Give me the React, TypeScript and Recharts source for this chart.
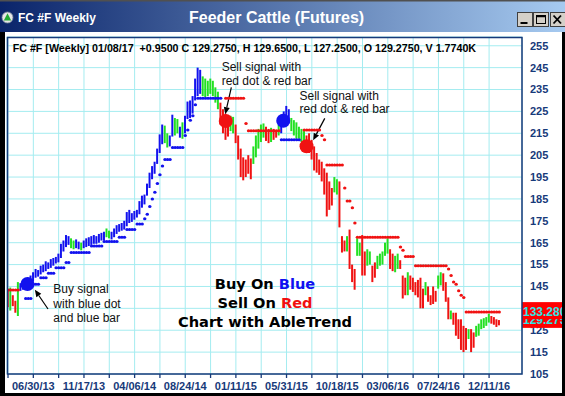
import React from 'react';
import {
  ComposedChart, Bar, Cell, Scatter, XAxis, YAxis, CartesianGrid,
  ReferenceDot, ReferenceLine,
} from 'recharts';

// ---------- data ----------
const FIRST_WEEK = -10; // week 0 = 06/30/13, weekly bars

const highs: number[] = [
  144, 144.5, 141, 138.5, 147, 146.5, 147, 148, 149, 150,
  151.5, 153, 152.5, 154.5, 155, 156.5, 156, 157.5, 158, 158.5,
  160, 164.5, 166, 168.5, 168, 167, 166, 166.5, 165.5, 165,
  166, 167, 167.5, 168, 168.5, 168, 169, 169.5, 170, 171.5,
  170.5, 170, 171.5, 173, 173.5, 174, 175, 179, 180, 178.5,
  179.5, 180, 184, 186.5, 187, 192, 197, 200, 202, 208,
  214.5, 219, 218.5, 215, 214, 223.5, 222, 221.5, 218, 220,
  223, 229.5, 230, 232, 240, 245, 244, 241, 240, 239,
  240, 239, 236, 234, 229, 226, 224, 222, 223, 222.5,
  219, 214, 208, 204, 203, 205, 203.5, 209, 214, 217,
  219, 219.5, 218, 217, 217.5, 217, 216.5, 219, 222, 225,
  227.5, 226, 222, 221, 220, 218, 217, 216, 214, 215,
  212, 209, 206, 203, 202, 199, 197, 193, 190, 195,
  194, 193, 168, 166, 168, 171, 155, 153, 167, 165,
  168.5, 161, 162, 161, 154.5, 156, 159, 160, 161, 165,
  167, 162, 160, 159, 160, 157, 150, 149, 151.5, 150,
  149, 147, 148, 149, 144, 147, 145, 141, 145, 143,
  150, 151.5, 151, 147, 140, 134, 133, 133, 130, 130,
  127, 126, 125.5, 125.5, 124, 127, 128, 130, 130.5, 131,
  132.5, 131.5, 131, 130, 129.65,
];

const lows: number[] = [
  135.5, 134, 136, 133, 131.5, 143, 143.5, 144.5, 145.5, 146.5,
  147.5, 149, 149.5, 150.5, 151.5, 152, 153, 153.5, 154.5, 155.5,
  156, 158, 161, 163, 164, 162.5, 162, 162.5, 162, 161.5,
  162.5, 163, 163.5, 164, 164.5, 164.5, 165, 166, 166, 167.5,
  167, 166.5, 167.5, 169, 170, 170.5, 171, 172.5, 174, 174.5,
  175.5, 176.5, 178, 181, 182.5, 186.5, 190, 194, 196.5, 201,
  206, 210, 210.5, 208.5, 209, 213.5, 214, 215, 213, 212.5,
  215, 221.5, 222, 224, 230, 232, 233, 232, 231.5, 232,
  233, 232, 229, 226, 219, 215, 212, 213.5, 216, 215,
  210.5, 203, 195, 193.5, 195, 196.5, 194, 201, 204, 208,
  211, 213, 211.5, 210.5, 211, 212, 213, 214, 215, 218,
  219, 219.5, 216, 214, 212.5, 212.5, 211, 210, 207, 206,
  203, 198, 197, 196, 193, 187, 177, 180, 182, 188,
  187, 172, 160.5, 161, 161, 153, 147, 143.5, 159, 159,
  150, 150, 154.5, 155, 147, 149, 153, 154.5, 155, 159,
  160, 153, 152, 151.5, 153, 153, 139.5, 141, 141, 143.5,
  142.5, 141, 140, 135, 135, 141, 138, 136.5, 137, 138,
  144, 145.5, 143, 138, 130, 130, 127.5, 122.5, 121, 116,
  115, 116, 121, 115, 117, 122, 122.5, 125.5, 126, 127,
  128.5, 128, 127.5, 126.5, 127.25,
];

// b = trend up (blue), g = pause (green), r = trend down (red)
const barColors =
  'rgrrgbbbbb' +
  'bbbbbbbbbb' + 'bbbbbggbbg' + 'bbbbbbbbbg' + 'gbbbbbbbbb' + 'bbbbbbbbbb' +
  'bbggbbggbg' + 'bbbbbbbggg' + 'ggggrrrrgg' + 'rrrrrrrggg' + 'ggrrgrrgbb' +
  'bbggggggrr' + 'rrrrrrrrrg' + 'grrrgrrrgg' + 'rrggrrgggg' + 'grrggrrrgr' +
  'rrrrrgrrrr' + 'ggrrrgrrrr' + 'rrgrrggggg' + 'grrrr';

const stopLevels: (number | null)[] = [
  143.4, 143.4, 143.4, 143.4, 143.4, null, null, 139.5, 139.5, 139.5,
  146, 146, 146, 149, 149, 149, 151, 151, 151, 153.5,
  153.5, 153.5, 153.5, 156, 156, 160.5, 160.5, 160.5, 160.5, 160.5,
  160.5, 160.5, 160.5, 163.5, 163.5, 163.5, 163.5, 163.5, 165.5, 165.5,
  165.5, 165.5, 165.5, 165.5, 167.5, 167.5, 167.5, 171, 171, 171,
  171, 173.5, 173.5, 173.5, 176, 178, 181.5, 185, 188, 192,
  196, 200, 203, 203, 203, 208.5, 208.5, 208.5, 208.5, 208.5,
  214, 216.5, 221, 223, 228, 231, 231, 231, 231, 231,
  231, 231, 231, 231, 231, null, 231, 231, 231, 231,
  231, 231, 231, 231, 219.5, 216.2, 216.2, 216.2, 216.2, 216.2,
  216.2, 216.2, 216.2, 216.2, 216.2, 216.2, 216.2, 216.2, 212, 212,
  212, 212, 212, 212, 212, 212, null, 216.5, 216.5, 216.5,
  216.5, 216.5, 216.5, 216.5, 214, 212, 200.5, 200.5, 200.5, 200.5,
  200.5, 200.5, 200.5, 190, 184, 184, 181, 174, 167.5, 167.5,
  167.5, 167.5, 167.5, 167.5, 167.5, 167.5, 167.5, 167.5, 167.5, 167.5,
  167.5, 167.5, 167.5, 167.5, 167.5, 163, 161.5, 158.7, 158.7, 158.7,
  158.7, 154.5, 154.5, 154.5, 154.5, 154.5, 154.5, 154.5, 154.5, 154.5,
  154.5, 154.5, 154.5, 154.5, 153, 150, 147, 146, 143, 141,
  140, 133.28, 133.28, 133.28, 133.28, 133.28, 133.28, 133.28, 133.28, 133.28,
  133.28, 133.28, 133.28, 133.28, 133.28,
];

const stopSides =
  'rrrrr--bbb' + 'bbbbbbbbbb' + 'bbbbbbbbbb' + 'bbbbbbbbbb' + 'bbbbbbbbbb' +
  'bbbbbbbbbb' + 'bbbbbbbbbb' + 'bbbbbbbbbb' + 'bbbbb-rrrr' + 'rrrrrrrrrr' +
  'rrrrrrrrbb' + 'bbbbbb-rrr' + 'rrrrrrrrrr' + 'rrrrrrrrrr' + 'rrrrrrrrrr' +
  'rrrrrrrrrr' + 'rrrrrrrrrr' + 'rrrrrrrrrr' + 'rrrrrrrrrr' + 'rrrrr';

const signalWeeks = [-2.3, 76, 98.7, 107.9];
const signalPrices = [146.1, 220.6, 220.7, 209.1];
const signalSides = 'brbr';

const arrowTails: [number, number][] = [[5.8, 134.7], [78.2, 236], [115.1, 221.8]];
const arrowTips: [number, number][] = [[0.6, 143.5], [75.8, 223.7], [110.5, 211.8]];

const xTicks = [-10, 0, 10, 20, 30, 40, 50, 60, 70, 80, 90, 100, 110, 120, 130, 140, 150, 160, 170, 180];
const dateLabels: Record<number, string> = {
  0: '06/30/13', 20: '11/17/13', 40: '04/06/14', 60: '08/24/14', 80: '01/11/15',
  100: '05/31/15', 120: '10/18/15', 140: '03/06/16', 160: '07/24/16', 180: '12/11/16',
};
const yTicks = [105, 115, 125, 135, 145, 155, 165, 175, 185, 195, 205, 215, 225, 235, 245, 255];

const lastStop = 133.28;
const lastClose = 129.275;
const headerText = 'FC #F [Weekly] 01/08/17\u00A0 +0.9500 C 129.2750, H 129.6500, L 127.2500, O 129.2750, V 1.7740K';

// ---------- styling ----------
const COLORS: Record<string, string> = { b: '#1212EE', g: '#22E022', r: '#F01212' };
const NAVY = '#173A7A';
const GRID = '#A4ECF0';
const FONT = 'Arial, "Liberation Sans", sans-serif';

const rows = highs.map((h, i) => ({ w: FIRST_WEEK + i, hl: [lows[i], h], c: barColors[i] }));
const stopPts = stopLevels
  .map((v, i) => (v == null ? null : { w: FIRST_WEEK + i, v, c: stopSides[i] }))
  .filter((p) => p !== null) as { w: number; v: number; c: string }[];

const StopDot = (props: any) => {
  const { cx, cy, payload } = props;
  if (cx == null || cy == null) return <g />;
  return <ellipse cx={cx} cy={cy} rx={1.7} ry={1.5} fill={COLORS[payload.c]} />;
};

const Arrow = (props: any) => {
  const { x1, y1, x2, y2 } = props;
  const ang = Math.atan2(y2 - y1, x2 - x1);
  const len = 7;
  const half = 3;
  const bx = x2 - len * Math.cos(ang);
  const by = y2 - len * Math.sin(ang);
  const px = -Math.sin(ang) * half;
  const py = Math.cos(ang) * half;
  return (
    <g>
      <line x1={x1} y1={y1} x2={bx} y2={by} stroke="#000" strokeWidth={1.2} />
      <polygon points={`${x2},${y2} ${bx + px},${by + py} ${bx - px},${by - py}`} fill="#000" />
    </g>
  );
};

const PriceTag = (props: any) => {
  const { viewBox, text } = props;
  if (!viewBox) return null;
  const x = viewBox.x + viewBox.width;
  const y = viewBox.y;
  return (
    <g>
      <rect x={x} y={y - 10} width={45} height={17} fill="#FF0000" />
      <text x={x + 1} y={y + 3.5} fill="#2EE6E6" fontSize={12} fontWeight="bold" fontFamily={FONT}>{text}</text>
    </g>
  );
};

export default function App() {
  return (
    <div style={{ position: 'absolute', left: 0, top: 0, width: 565, height: 396, background: '#fff', overflow: 'hidden' }}>
      <div style={{ position: 'absolute', left: 0, top: 0 }}>
        <ComposedChart
          width={565}
          height={396}
          data={rows}
          margin={{ top: 37, right: 0, bottom: 0, left: 7 }}
        >
          <CartesianGrid stroke={GRID} strokeWidth={1} />
          <XAxis
            dataKey="w"
            type="number"
            domain={[-10.4, 193]}
            allowDataOverflow
            ticks={xTicks}
            interval={0}
            height={22}
            axisLine={false}
            tickLine={{ stroke: NAVY, strokeWidth: 1.3 }}
            tickSize={4}
            tickMargin={4}
            tickFormatter={(v: number) => dateLabels[v] ?? ''}
            tick={{ fill: NAVY, fontSize: 11, fontWeight: 'bold', fontFamily: FONT }}
          />
          <YAxis
            orientation="right"
            type="number"
            domain={[105, 259]}
            allowDataOverflow
            ticks={yTicks}
            interval={0}
            width={43}
            axisLine={false}
            tickLine={false}
            tickSize={0}
            tickMargin={8}
            tick={{ fill: NAVY, fontSize: 11, fontWeight: 'bold', fontFamily: FONT, textAnchor: 'start' }}
          />
          <Bar dataKey="hl" barSize={2} isAnimationActive={false}>
            {rows.map((r, i) => (
              <Cell key={i} fill={COLORS[r.c]} />
            ))}
          </Bar>
          <Scatter data={stopPts} dataKey="v" shape={StopDot} isAnimationActive={false} />
          {signalWeeks.map((w, i) => (
            <ReferenceDot key={'s' + i} x={w} y={signalPrices[i]} r={7} fill={COLORS[signalSides[i]]} stroke="none" />
          ))}
          {arrowTails.map((t, i) => (
            <ReferenceLine
              key={'a' + i}
              segment={[{ x: t[0], y: t[1] }, { x: arrowTips[i][0], y: arrowTips[i][1] }]}
              shape={Arrow}
            />
          ))}
          <ReferenceLine y={lastClose} stroke="none" zIndex={2100} label={<PriceTag text={lastClose.toFixed(3)} />} />
          <ReferenceLine y={lastStop} stroke="none" zIndex={2200} label={<PriceTag text={lastStop.toFixed(3)} />} />
        </ComposedChart>
      </div>

      <svg width={565} height={396} style={{ position: 'absolute', left: 0, top: 0, pointerEvents: 'none' }}>
        <defs>
          <linearGradient id="tb" x1="0" y1="0" x2="1" y2="0">
            <stop offset="0" stopColor="#0A246A" />
            <stop offset="1" stopColor="#A6CAF0" />
          </linearGradient>
        </defs>
        {/* title bar */}
        <rect x={0} y={0} width={565} height={32} fill="url(#tb)" />
        <rect x={0} y={0} width={565} height={1.5} fill="#505050" />
        <circle cx={7.5} cy={17.5} r={5.5} fill="#E6E6E6" stroke="#7A8A9A" strokeWidth={0.8} />
        <polygon points="7.5,13.2 3.8,20.5 11.2,20.5" fill="#22AA33" />
        <text x={18} y={21.8} fill="#fff" fontSize={12} fontWeight="bold" fontFamily={FONT}>FC #F Weekly</text>
        <text x={189} y={23} fill="#fff" fontSize={16} fontWeight="bold" fontFamily={FONT}>Feeder Cattle (Futures)</text>
        {/* window buttons */}
        <rect x={517.5} y={12.5} width={15} height={14} fill="#D4D0C8" stroke="#404040" />
        <line x1={520.5} y1={23} x2={527.5} y2={23} stroke="#000" strokeWidth={2} />
        <rect x={533.5} y={12.5} width={15} height={14} fill="#D4D0C8" stroke="#404040" />
        <rect x={536.5} y={15.5} width={9} height={8} fill="none" stroke="#000" strokeWidth={1} />
        <line x1={536.5} y1={16.5} x2={545.5} y2={16.5} stroke="#000" strokeWidth={1.5} />
        <rect x={550.5} y={12.5} width={15} height={14} fill="#D4D0C8" stroke="#404040" />
        <line x1={553.5} y1={15.5} x2={561} y2={23.5} stroke="#000" strokeWidth={1.8} />
        <line x1={561} y1={15.5} x2={553.5} y2={23.5} stroke="#000" strokeWidth={1.8} />
        {/* window frame */}
        <rect x={0} y={32} width={5} height={364} fill="#000" />
        <rect x={562} y={32} width={3} height={364} fill="#000" />
        <rect x={0} y={393} width={565} height={3} fill="#000" />
        {/* plot border */}
        <rect x={7.5} y={37.5} width={514.5} height={336.5} fill="none" stroke={NAVY} strokeWidth={1.5} />
        {/* header */}
        <text x={12.7} y={51.5} fill="#000" fontSize={10.7} fontWeight="bold" fontFamily={FONT}>{headerText}</text>
        {/* annotations */}
        <g fill="#111" fontSize={12} fontFamily={FONT}>
          <text x={221.7} y={71}>Sell signal with</text>
          <text x={221.7} y={84.7}>red dot &amp; red bar</text>
          <text x={299.5} y={99.5}>Sell signal with</text>
          <text x={299.5} y={113.3}>red dot &amp; red bar</text>
          <text x={53.3} y={293.3}>Buy signal</text>
          <text x={53.3} y={307.5}>with blue dot</text>
          <text x={53.3} y={321.7}>and blue bar</text>
        </g>
        <g fontSize={14.6} fontWeight="bold" fontFamily='"DejaVu Sans", Verdana, sans-serif' textAnchor="middle" fill="#000">
          <text x={265} y={288.5}>Buy On <tspan fill="#1010F0">Blue</tspan></text>
          <text x={265} y={307.5}>Sell On <tspan fill="#F01010">Red</tspan></text>
          <text x={265} y={326.7}>Chart with AbleTrend</text>
        </g>
      </svg>
    </div>
  );
}
